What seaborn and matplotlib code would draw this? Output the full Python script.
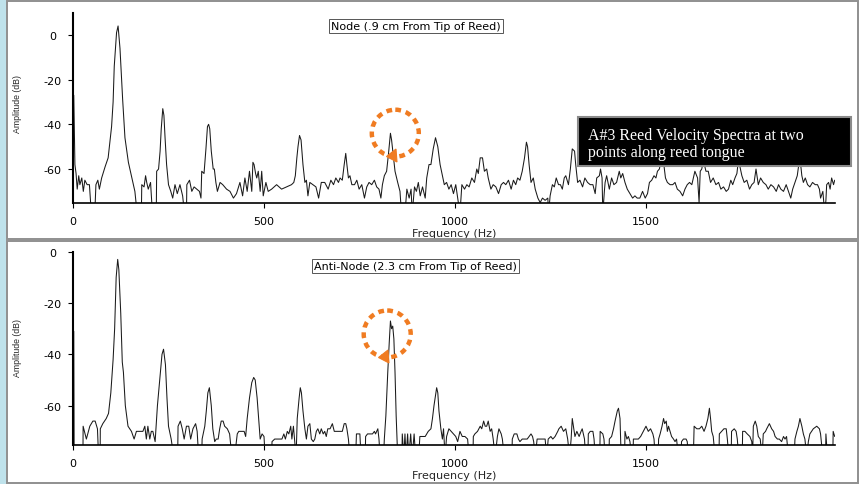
import numpy as np
import matplotlib
matplotlib.use("Agg")
import matplotlib.pyplot as plt
import matplotlib.patches as mpatches
import seaborn as sns

# ---------------- data ----------------
top_title = "Node (.9 cm From Tip of Reed)"
bottom_title = "Anti-Node (2.3 cm From Tip of Reed)"
box_lines = ["A#3 Reed Velocity Spectra at two", "points along reed tongue"]
x_ticks = [0, 500, 1000, 1500]
top_yticks = [0, -20, -40, -60]
bottom_yticks = [0, -20, -40, -60]

top_freq = [
    2, 5, 8, 11, 15, 18, 23, 27, 31, 37,
    43, 48, 57, 60, 65, 69, 75, 84, 92, 101,
    105, 108, 114, 118, 123, 130, 136, 145, 154, 162,
    168, 179, 180, 186, 190, 193, 197, 203, 208, 218,
    219, 224, 228, 231, 235, 238, 241, 245, 250, 256,
    261, 267, 273, 280, 287, 292, 297, 298, 305, 311,
    317, 324, 331, 335, 337, 343, 348, 352, 355, 358,
    362, 367, 370, 374, 378, 385, 392, 402, 411, 420,
    428, 437, 444, 450, 456, 462, 468, 471, 474, 478,
    481, 485, 490, 494, 498, 505, 511, 520, 533, 546,
    559, 572, 578, 582, 586, 589, 593, 597, 602, 607,
    611, 615, 620, 628, 636, 643, 650, 659, 668, 675,
    682, 688, 695, 699, 705, 710, 714, 717, 721, 725,
    730, 737, 743, 749, 756, 763, 769, 775, 782, 789,
    795, 801, 806, 810, 815, 821, 826, 831, 834, 839,
    843, 850, 856, 860, 869, 874, 880, 885, 888, 894,
    899, 904, 909, 915, 922, 926, 932, 937, 943, 949,
    955, 961, 967, 972, 978, 984, 990, 996, 1002, 1007,
    1013, 1018, 1025, 1031, 1037, 1044, 1051, 1057, 1061, 1066,
    1072, 1077, 1083, 1087, 1094, 1100, 1107, 1114, 1121, 1127,
    1133, 1140, 1147, 1153, 1159, 1164, 1170, 1176, 1182, 1187,
    1190, 1194, 1199, 1205, 1210, 1217, 1223, 1229, 1236, 1243,
    1245, 1249, 1255, 1260, 1265, 1271, 1276, 1281, 1286, 1290,
    1297, 1302, 1307, 1313, 1316, 1321, 1327, 1334, 1340, 1347,
    1354, 1361, 1367, 1371, 1378, 1381, 1385, 1387, 1391, 1393,
    1397, 1404, 1410, 1416, 1423, 1430, 1434, 1439, 1445, 1451,
    1458, 1465, 1471, 1477, 1484, 1491, 1498, 1504, 1509, 1515,
    1521, 1526, 1530, 1535, 1541, 1546, 1551, 1556, 1563, 1570,
    1576, 1582, 1589, 1596, 1602, 1608, 1614, 1620, 1624, 1628,
    1635, 1639, 1642, 1646, 1650, 1657, 1663, 1669, 1676, 1683,
    1690, 1696, 1703, 1710, 1716, 1722, 1727, 1733, 1738, 1742,
    1746, 1751, 1757, 1764, 1771, 1777, 1783, 1788, 1794, 1800,
    1807, 1814, 1820, 1827, 1834, 1841, 1847, 1853, 1860, 1867,
    1873, 1879, 1884, 1890, 1896, 1900, 1903, 1908, 1912, 1917,
    1923, 1929, 1936, 1943, 1949, 1954, 1957, 1963, 1968, 1971,
    1973, 1978, 1982, 1986, 1991, 1994,
]
top_db = [
    -27, -58, -62, -69, -63, -67, -64, -70, -65, -67,
    -67, -80, -80, -67, -65, -69, -64, -59, -55, -41,
    -30, -14, 1, 4, -6, -29, -46, -57, -64, -70,
    -80, -80, -67, -68, -63, -66, -69, -66, -80, -80,
    -61, -60, -52, -42, -33, -36, -46, -58, -67, -70,
    -73, -67, -71, -67, -72, -80, -80, -67, -65, -70,
    -68, -69, -70, -73, -61, -62, -51, -41, -40, -42,
    -52, -60, -60, -66, -70, -66, -67, -69, -70, -73,
    -71, -66, -72, -64, -70, -61, -70, -57, -58, -62,
    -64, -61, -70, -61, -72, -66, -70, -69, -67, -69,
    -68, -67, -66, -63, -55, -50, -45, -47, -58, -66,
    -65, -72, -66, -67, -68, -73, -66, -66, -69, -65,
    -67, -64, -66, -64, -65, -58, -53, -58, -64, -63,
    -67, -67, -65, -69, -67, -73, -68, -66, -67, -65,
    -68, -69, -73, -67, -63, -61, -53, -44, -47, -55,
    -61, -66, -70, -80, -80, -69, -73, -69, -80, -68,
    -70, -66, -72, -68, -73, -64, -58, -58, -51, -46,
    -50, -58, -63, -67, -66, -69, -67, -71, -67, -73,
    -80, -67, -69, -67, -68, -64, -66, -60, -62, -55,
    -55, -61, -60, -64, -69, -67, -68, -71, -67, -66,
    -67, -65, -69, -65, -67, -64, -65, -61, -55, -48,
    -50, -58, -66, -64, -69, -73, -75, -73, -74, -73,
    -80, -72, -67, -68, -64, -67, -67, -69, -64, -63,
    -67, -60, -51, -52, -58, -66, -65, -68, -64, -66,
    -67, -67, -71, -64, -63, -60, -64, -80, -70, -66,
    -63, -69, -64, -67, -66, -61, -64, -62, -66, -69,
    -71, -73, -72, -73, -73, -70, -73, -71, -66, -65,
    -63, -64, -61, -60, -55, -57, -64, -66, -67, -67,
    -66, -69, -70, -72, -69, -67, -66, -67, -64, -61,
    -64, -75, -61, -60, -56, -61, -61, -66, -64, -67,
    -66, -69, -68, -70, -69, -65, -67, -64, -62, -56,
    -59, -63, -66, -65, -69, -67, -66, -60, -67, -64,
    -66, -67, -69, -67, -68, -70, -67, -69, -70, -67,
    -70, -73, -69, -66, -63, -58, -55, -63, -66, -64,
    -67, -68, -66, -67, -67, -69, -73, -70, -80, -74,
    -67, -66, -69, -64, -67, -65,
]

bottom_freq = [
    2, 3, 26, 26.5, 35, 44, 52, 58, 64, 67,
    71, 71.5, 78, 87, 93, 99, 105, 109, 113, 117,
    120, 125, 129, 132, 137, 144, 153, 160, 166, 175,
    183, 188, 192, 196, 201, 205, 209, 215, 221, 227,
    233, 237, 242, 246, 250, 257, 264, 274, 275, 281,
    286, 291, 297, 303, 308, 314, 321, 325, 329, 337,
    338, 345, 349, 353, 357, 362, 366, 371, 375, 380,
    384, 388, 393, 397, 404, 410, 416, 423, 430, 434,
    441, 448, 452, 456, 462, 468, 473, 477, 482, 486,
    490, 495, 500, 503, 520, 521, 528, 538, 547, 552,
    556, 561, 565, 570, 573, 577, 580, 584, 587, 592,
    595, 598, 602, 607, 611, 615, 620, 624, 629, 633,
    637, 641, 646, 650, 655, 659, 663, 667, 673, 679,
    684, 690, 699, 705, 710, 714, 717, 721, 725, 740,
    742, 747, 751, 754, 765, 766, 771, 778, 784, 789,
    792, 798, 801, 804, 813, 815, 819, 824, 828, 831,
    834, 837, 840, 843, 846, 850, 861, 862, 866, 869,
    872, 876, 879, 884, 888, 893, 897, 905, 908, 915,
    922, 930, 937, 941, 945, 949, 952, 955, 958, 963,
    967, 970, 974, 978, 984, 990, 996, 1002, 1007, 1013,
    1019, 1026, 1033, 1037, 1047, 1048, 1052, 1059, 1066, 1070,
    1075, 1079, 1083, 1087, 1092, 1096, 1100, 1105, 1111, 1115,
    1121, 1124, 1129, 1149, 1150, 1155, 1162, 1166, 1170, 1176,
    1183, 1189, 1194, 1199, 1203, 1206, 1210, 1215, 1220, 1225,
    1231, 1236, 1240, 1244, 1251, 1256, 1262, 1269, 1272, 1278,
    1284, 1290, 1295, 1300, 1304, 1307, 1311, 1314, 1319, 1325,
    1330, 1333, 1339, 1342, 1348, 1349, 1354, 1361, 1364, 1367,
    1379, 1380, 1387, 1390, 1393, 1403, 1404, 1410, 1415, 1419,
    1425, 1428, 1432, 1435, 1444, 1445, 1450, 1454, 1458, 1462,
    1466, 1467, 1471, 1476, 1480, 1486, 1493, 1500, 1506, 1512,
    1518, 1521, 1524, 1532, 1533, 1537, 1542, 1546, 1549, 1553,
    1556, 1559, 1563, 1567, 1572, 1576, 1580, 1585, 1592, 1593,
    1598, 1605, 1608, 1611, 1624, 1626, 1633, 1640, 1646, 1652,
    1657, 1662, 1666, 1669, 1672, 1676, 1681, 1691, 1692, 1698,
    1704, 1710, 1713, 1717, 1723, 1724, 1731, 1736, 1739, 1743,
    1752, 1753, 1759, 1765, 1772, 1777, 1779, 1781, 1786, 1790,
    1794, 1799, 1804, 1807, 1813, 1816, 1823, 1829, 1834, 1838,
    1844, 1849, 1855, 1860, 1864, 1868, 1873, 1888, 1890, 1895,
    1899, 1903, 1908, 1912, 1916, 1921, 1925, 1929, 1938, 1947,
    1954, 1957, 1963, 1970, 1971, 1975, 1989, 1990, 1994,
]
bottom_db = [
    -31, -80, -80, -68, -73, -68, -66, -66, -69, -80,
    -80, -69, -67, -65, -63, -55, -42, -30, -10, -3,
    -7, -24, -43, -47, -60, -68, -70, -73, -70, -70,
    -70, -68, -73, -68, -73, -70, -70, -74, -60, -50,
    -40, -38, -44, -57, -68, -73, -80, -80, -68, -66,
    -69, -73, -68, -68, -73, -69, -67, -70, -80, -80,
    -73, -68, -62, -55, -53, -60, -69, -74, -73, -73,
    -69, -66, -66, -68, -69, -71, -80, -80, -71, -70,
    -70, -70, -72, -65, -57, -51, -49, -50, -57, -65,
    -73, -71, -72, -80, -80, -74, -73, -73, -73, -71,
    -73, -70, -71, -68, -73, -68, -73, -80, -65, -57,
    -53, -55, -62, -69, -73, -68, -67, -73, -74, -73,
    -70, -69, -71, -69, -71, -70, -72, -69, -69, -67,
    -70, -70, -70, -70, -67, -67, -69, -73, -80, -80,
    -71, -71, -71, -80, -80, -72, -71, -71, -71, -70,
    -71, -69, -73, -80, -80, -73, -64, -47, -35, -27,
    -30, -29, -34, -47, -64, -80, -80, -71, -80, -71,
    -80, -71, -80, -71, -80, -71, -80, -80, -72, -72,
    -72, -70, -69, -65, -60, -56, -53, -55, -62, -69,
    -73, -69, -80, -72, -69, -70, -71, -72, -74, -70,
    -72, -72, -73, -80, -80, -72, -71, -70, -68, -69,
    -66, -68, -68, -66, -70, -69, -73, -80, -72, -69,
    -71, -73, -80, -80, -73, -71, -71, -73, -74, -73,
    -73, -73, -72, -71, -72, -74, -80, -73, -73, -73,
    -73, -73, -80, -73, -72, -73, -72, -70, -69, -68,
    -70, -69, -73, -80, -73, -65, -69, -72, -70, -72,
    -70, -69, -73, -80, -80, -71, -70, -70, -73, -80,
    -80, -70, -71, -73, -80, -80, -73, -72, -69, -66,
    -62, -61, -65, -80, -80, -70, -73, -72, -74, -80,
    -80, -73, -73, -73, -73, -72, -70, -68, -70, -69,
    -71, -73, -80, -80, -73, -71, -68, -65, -67, -66,
    -70, -68, -70, -72, -73, -74, -73, -80, -80, -74,
    -73, -73, -74, -80, -80, -68, -69, -69, -68, -70,
    -68, -65, -61, -65, -70, -72, -80, -80, -71, -70,
    -69, -69, -73, -80, -80, -70, -69, -70, -73, -80,
    -80, -70, -70, -71, -72, -74, -80, -68, -66, -68,
    -72, -73, -80, -71, -70, -69, -67, -69, -70, -72,
    -73, -73, -74, -72, -73, -72, -80, -80, -73, -70,
    -68, -65, -68, -71, -73, -80, -74, -71, -69, -68,
    -69, -71, -80, -80, -71, -80, -80, -70, -72,
]

# ---------------- figure ----------------
W, H = 860, 485
sns.set_style("ticks")
plt.rcParams["font.family"] = ["DejaVu Sans"]
fig = plt.figure(figsize=(W / 100, H / 100), dpi=100)
fig.patch.set_facecolor("white")

X_MAX = 1994.8
LINE_COLOR = "#1a1a1a"


def px_axes(x0, y_top, x1, y_bot):
    return [x0 / W, 1 - y_bot / H, (x1 - x0) / W, (y_bot - y_top) / H]


def style_axes(ax, ylim, yticks, ylabel_y):
    ax.set_xlim(0, X_MAX)
    ax.set_ylim(*ylim)
    ax.set_xticks(x_ticks)
    ax.set_xticklabels([str(t) for t in x_ticks])
    ax.set_yticks(yticks)
    ax.set_yticklabels([str(t) for t in yticks])
    for lbl in ax.get_yticklabels():
        lbl.set_horizontalalignment("center")
    ax.tick_params(axis="y", direction="out", length=3.6, width=0.8,
                   pad=11.0, labelsize=8, colors="black")
    ax.tick_params(axis="x", direction="out", length=3.6, width=0.8,
                   pad=6.0, labelsize=8, colors="black")
    for s in ["top", "right"]:
        ax.spines[s].set_visible(False)
    ax.spines["left"].set_linewidth(1.5)
    ax.spines["bottom"].set_linewidth(1.2)
    ax.spines["left"].set_color("black")
    ax.spines["bottom"].set_color("black")
    ax.set_facecolor("none")
    ax.set_xlabel("Frequency (Hz)", fontsize=8, labelpad=1.5)
    ax.set_ylabel("Amplitude (dB)", fontsize=6.3, family=["Liberation Sans", "DejaVu Sans"])
    ax.yaxis.set_label_coords(-0.0669, ylabel_y)
    ax.grid(False)


ax1 = fig.add_axes(px_axes(73, 14, 835, 204))
sns.lineplot(x=np.array(top_freq, dtype=float), y=np.array(top_db, dtype=float),
             ax=ax1, sort=False, estimator=None, color=LINE_COLOR, linewidth=0.75)
style_axes(ax1, (-75.2, 9.8), top_yticks, 0.526)

ax2 = fig.add_axes(px_axes(73, 252.7, 835, 445.7))
sns.lineplot(x=np.array(bottom_freq, dtype=float), y=np.array(bottom_db, dtype=float),
             ax=ax2, sort=False, estimator=None, color=LINE_COLOR, linewidth=0.75)
style_axes(ax2, (-75.2, 0), bottom_yticks, 0.506)

# ---------------- overlay (frames, boxes, annotations) in pixel units ----------------
ov = fig.add_axes([0, 0, 1, 1], zorder=10)
ov.set_xlim(0, W)
ov.set_ylim(H, 0)
ov.axis("off")
ov.patch.set_alpha(0)

ov.add_patch(mpatches.Rectangle((0, 0), 6, H, facecolor="#bfe2eb", edgecolor="none"))
frame_col = "#8f8f8f"
ov.add_patch(mpatches.Rectangle((6.5, 1.5), 851.5, 238, fill=False,
                                edgecolor=frame_col, linewidth=1.4))
ov.add_patch(mpatches.Rectangle((6.5, 241.5), 851.5, 242.5, fill=False,
                                edgecolor=frame_col, linewidth=1.4))

# panel titles
for txt, cx, cy in [(top_title, 416, 26.5), (bottom_title, 415.5, 267)]:
    ov.text(cx, cy, txt, ha="center", va="center", fontsize=8, color="black",
            bbox=dict(boxstyle="square,pad=0.18", facecolor="white",
                      edgecolor="#555555", linewidth=0.7))

# black caption box
ov.add_patch(mpatches.Rectangle((578, 118), 273, 49, facecolor="black",
                                edgecolor="#8a8a8a", linewidth=1.5))
ov.text(587.5, 140, box_lines[0], ha="left", va="baseline", color="white",
        fontsize=11.4, family=["Liberation Serif", "DejaVu Serif"])
ov.text(587.5, 157, box_lines[1], ha="left", va="baseline", color="white",
        fontsize=11.4, family=["Liberation Serif", "DejaVu Serif"])

# orange dashed circles with arrowheads
orange = "#f07c22"
for (cx, cy), tip in [((395.3, 134.2), (386.5, 157.5)), ((387.2, 335.0), (378.5, 358.5))]:
    ov.add_patch(mpatches.Circle((cx, cy), 23.5, fill=False, edgecolor=orange,
                                 linewidth=3.2, linestyle=(0, (1.3, 1.1))))
    tx, ty = tip
    ov.add_patch(mpatches.Polygon([(tx, ty), (tx + 9.5, ty - 7.5), (tx + 10.5, ty + 5.5)],
                                  closed=True, facecolor=orange, edgecolor=orange,
                                  linewidth=0.8))

fig.savefig("out.png", dpi=100, facecolor="white")
